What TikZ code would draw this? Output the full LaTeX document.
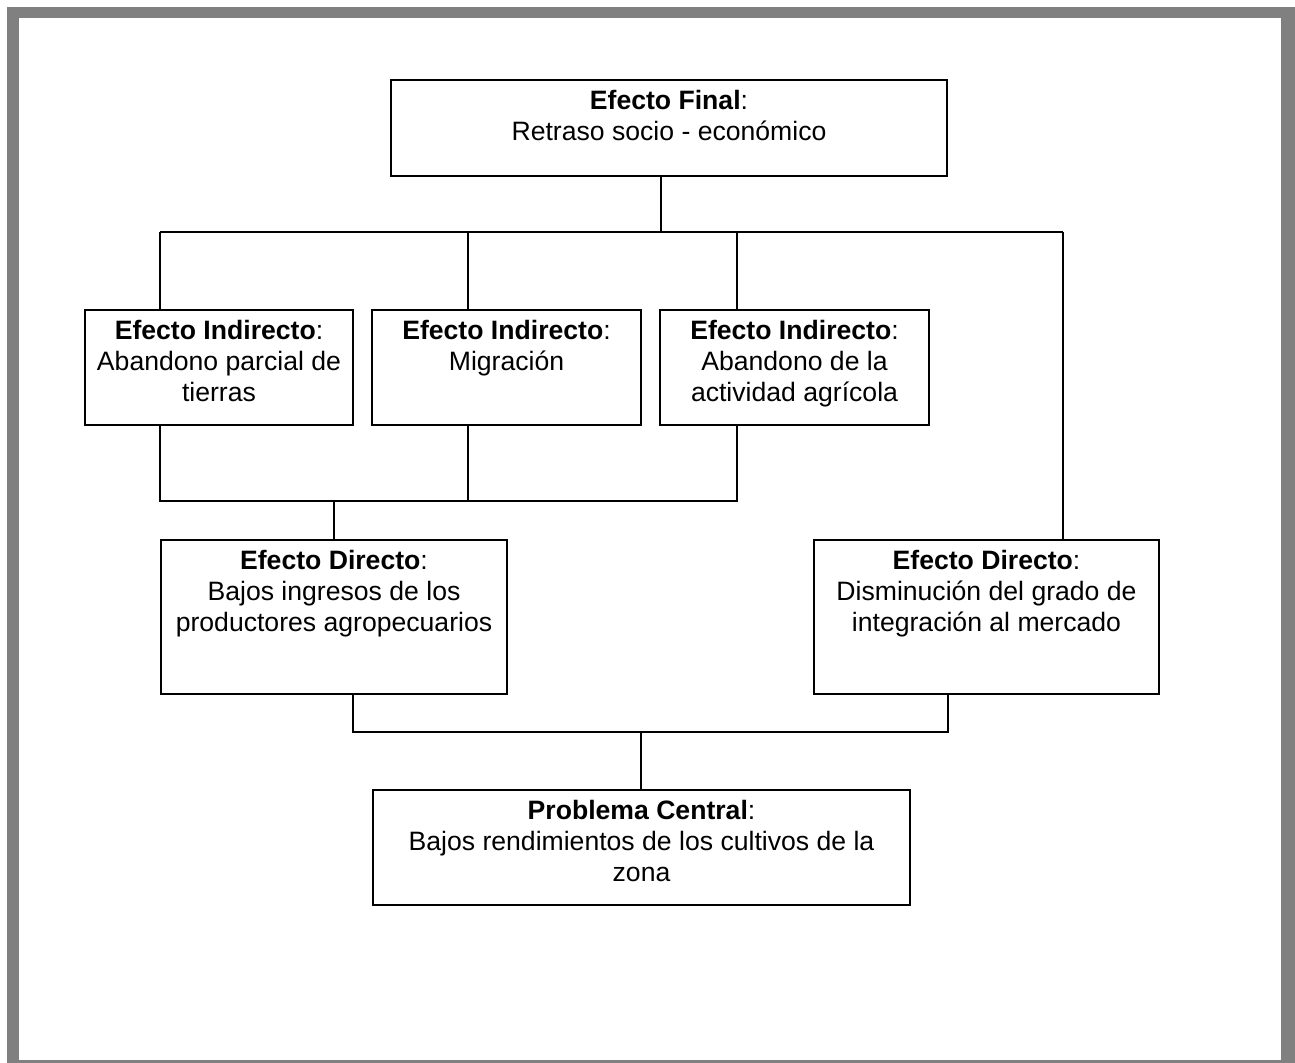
\documentclass[tikz,border=0pt]{standalone}
\usepackage{fontspec}
\setmainfont{Liberation Sans}
\usetikzlibrary{positioning, calc}
\newcommand{\txtcaja}[2]{\parbox[t]{#1}{\centering #2}}

\begin{document}
\begin{tikzpicture}[
        x=0.5pt, y=-0.5pt,
        caja/.style={draw, line width=0.9pt, anchor=north, inner xsep=2pt, inner ysep=4pt,
            text height=11pt, font=\fontsize{13.3}{15.4}\selectfont},
        linea/.style={line width=0.9pt}
    ]
    % marco
    \useasboundingbox (0,0) rectangle (1295,1063);
    \fill[gray] (7,7) rectangle (1295,1063);
    \fill[white] (19,18) rectangle (1281,1060);

    % Efecto final
    \node[caja, minimum width=278pt, text depth=29pt] (fin) at (669,79) {\txtcaja{270pt}{\textbf{Efecto Final}:\\Retraso socio - económico}};

    % Efectos indirectos
    \node[caja, minimum width=134pt, text depth=38.5pt] (ind1) at (219,309) {\txtcaja{128pt}{\textbf{Efecto Indirecto}:\\Abandono parcial de\\tierras}};
    \node[caja, minimum width=134.5pt, text depth=38.5pt] (ind2) at (506.5,309) {\txtcaja{128pt}{\textbf{Efecto Indirecto}:\\Migración}};
    \node[caja, minimum width=134.5pt, text depth=38.5pt] (ind3) at (794.5,309) {\txtcaja{128pt}{\textbf{Efecto Indirecto}:\\Abandono de la\\actividad agrícola}};

    % Efectos directos
    \node[caja, minimum width=173pt, text depth=58pt] (dir1) at (334,539) {\txtcaja{167pt}{\textbf{Efecto Directo}:\\Bajos ingresos de los\\productores agropecuarios}};
    \node[caja, minimum width=172.5pt, text depth=58pt] (dir2) at (986.5,539) {\txtcaja{167pt}{\textbf{Efecto Directo}:\\Disminución del grado de\\integración al mercado}};

    % Problema central
    \node[caja, minimum width=268.5pt, text depth=38.5pt] (cen) at (641.5,789) {\txtcaja{262pt}{\textbf{Problema Central}:\\Bajos rendimientos de los cultivos de la\\zona}};

    % barras de unión
    \coordinate (fbus) at (661,232);
    \coordinate (b1) at (160,232);
    \coordinate (b2) at (468,232);
    \coordinate (b3) at (737,232);
    \coordinate (b4) at (1063,232);
    \coordinate (m1) at (160,501);
    \coordinate (m2) at (468,501);
    \coordinate (m3) at (737,501);
    \coordinate (m0) at (334,501);
    \coordinate (l1) at (353,732);
    \coordinate (l2) at (948,732);
    \coordinate (l0) at (641,732);

    \draw[linea] (fin.south -| fbus) -- (fbus);
    \draw[linea] (b1) -- (b4);
    \draw[linea] (b1) -- (ind1.north -| b1);
    \draw[linea] (b2) -- (ind2.north -| b2);
    \draw[linea] (b3) -- (ind3.north -| b3);
    \draw[linea] (b4) -- (dir2.north -| b4);

    \draw[linea] (ind1.south -| m1) -- (m1) -- (m3) -- (ind3.south -| m3);
    \draw[linea] (ind2.south -| m2) -- (m2);
    \draw[linea] (m0) -- (dir1.north);

    \draw[linea] (dir1.south -| l1) -- (l1) -- (l2) -- (dir2.south -| l2);
    \draw[linea] (l0) -- (cen.north -| l0);
\end{tikzpicture}
\end{document}
